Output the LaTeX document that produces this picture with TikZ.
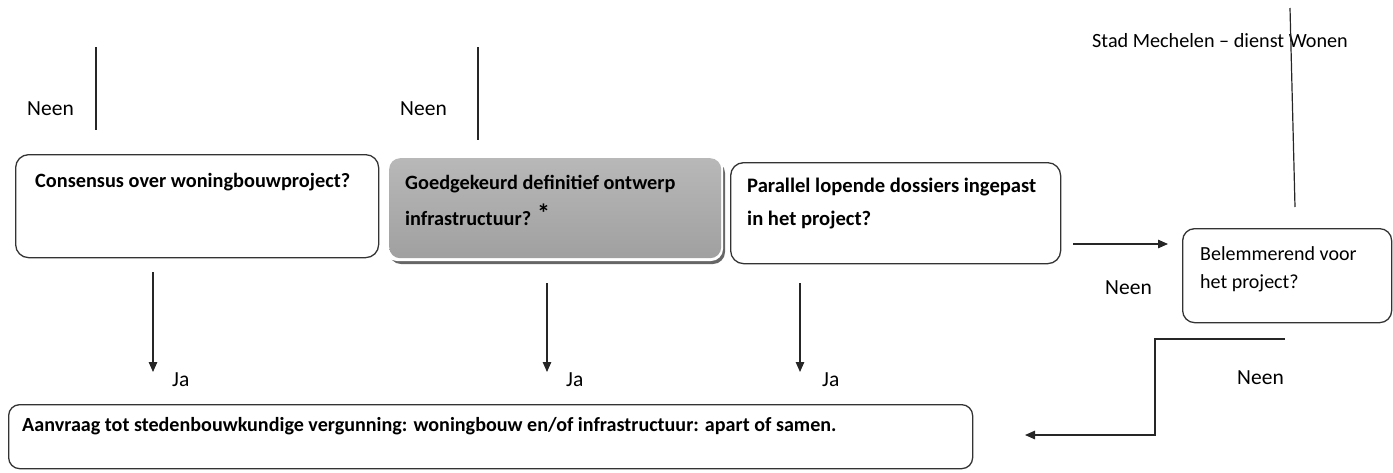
\documentclass[tikz,border=0pt]{standalone}
\usepackage{fontspec}
\setmainfont{Carlito}
\usetikzlibrary{arrows.meta}
\begin{document}
\begin{tikzpicture}[x=1pt,y=-1pt,
  box/.style={draw=black!80, line width=1.3pt, rounded corners=13pt, inner sep=0pt, anchor=north west},
  greybox/.style={rounded corners=11pt, inner sep=0pt, anchor=north west,
    top color={rgb,255:red,184;green,184;blue,184}, bottom color={rgb,255:red,160;green,160;blue,160}},
  qtext/.style={font=\fontsize{20.3}{24}\selectfont\bfseries, anchor=base west, inner sep=0pt},
  ltext/.style={font=\fontsize{20}{24}\selectfont, anchor=base west, inner sep=0pt},
  ntext/.style={ltext, font=\fontsize{21.5}{24}\selectfont},
  ln/.style={line width=1.2pt, draw=black!85},
  arr/.style={ln, -{Triangle[width=8.5pt,length=10pt]}}]
\useasboundingbox (0,0) rectangle (1393,472);

% question boxes
\node[box, minimum width=363pt, minimum height=103pt] (b1) at (15,154) {};
\fill[black!60, rounded corners=12pt] (389,161) rectangle (725,264);
\fill[white, rounded corners=12pt] (385,155) rectangle (723,261);
\node[greybox, minimum width=332pt, minimum height=100pt] (b2) at (389,158) {};
\node[box, minimum width=330pt, minimum height=101pt] (b3) at (730,162) {};
\node[box, minimum width=209pt, minimum height=94pt, rounded corners=12pt] (b4) at (1182,228) {};
\node[box, minimum width=964pt, minimum height=64pt, rounded corners=11pt] (b5) at (8,404) {};

% box texts
\node[qtext] (t1) at (35,187) {Consensus over woningbouwproject?};
\node[qtext] (t2a) at (405,189) {Goedgekeurd definitief ontwerp};
\node[qtext] (t2b) at (405,225) {infrastructuur?\hspace{6pt}\raisebox{3pt}{\fontsize{26}{28}\selectfont *}};
\node[qtext, font=\fontsize{20.6}{24}\selectfont\bfseries] (t3a) at (747,192) {Parallel lopende dossiers ingepast};
\node[qtext, font=\fontsize{20.6}{24}\selectfont\bfseries] (t3b) at (747,225) {in het project?};
\node[ltext] (t4a) at (1200,260) {Belemmerend voor};
\node[ltext] (t4b) at (1200,288) {het project?};
\node[qtext, font=\fontsize{20.1}{24}\selectfont\bfseries] (t5) at (22,431)
  {Aanvraag tot stedenbouwkundige vergunning: woningbouw en/of infrastructuur: apart of samen.};

% labels
\node[ltext, font=\fontsize{20.2}{24}\selectfont] (stad) at (1092,47) {Stad Mechelen – dienst Wonen};
\node[ntext] (neen1) at (27,115) {Neen};
\node[ntext] (neen2) at (400,115) {Neen};
\node[ntext] (neen3) at (1105,294) {Neen};
\node[ntext] (neen4) at (1237,384) {Neen};
\node[ntext] (ja1) at (172,386) {Ja};
\node[ntext] (ja2) at (566,386) {Ja};
\node[ntext] (ja3) at (822,386) {Ja};

% connector ends
\coordinate (n1a) at (96,47);   \coordinate (n1b) at (96,130);
\coordinate (n2a) at (478,47);  \coordinate (n2b) at (478,140);
\coordinate (n3a) at (1290,8);  \coordinate (n3b) at (1295,207);
\coordinate (j1a) at (153,272); \coordinate (j1b) at (153,372);
\coordinate (j2a) at (547,283); \coordinate (j2b) at (547,372);
\coordinate (j3a) at (800,283); \coordinate (j3b) at (800,372);
\coordinate (ra) at (1073,244); \coordinate (rb) at (1168,244);
\coordinate (ba) at (1285,339); \coordinate (bk1) at (1155,339);
\coordinate (bk2) at (1155,435); \coordinate (bb) at (1025,435);

% connectors
\draw[ln] (n1a) -- (n1b);
\draw[ln] (n2a) -- (n2b);
\draw[ln] (n3a) -- (n3b);
\draw[arr] (j1a) -- (j1b);
\draw[arr] (j2a) -- (j2b);
\draw[arr] (j3a) -- (j3b);
\draw[arr] (ra) -- (rb);
\draw[arr] (ba) -- (bk1) -- (bk2) -- (bb);
\end{tikzpicture}
\end{document}
